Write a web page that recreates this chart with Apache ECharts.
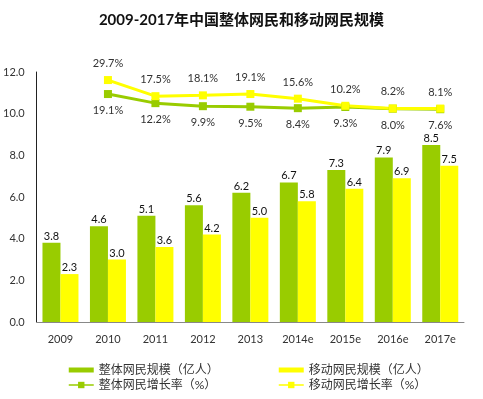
<!DOCTYPE html>
<html>
<head>
<meta charset="utf-8">
<script src="https://cdn.jsdelivr.net/npm/echarts@6/dist/echarts.min.js"></script>
<style>html,body{margin:0;padding:0;background:#fff;}#c{width:483px;height:399px;}</style>
</head>
<body>
<div id="c"></div>
<script>
const categories = ['2009','2010','2011','2012','2013','2014e','2015e','2016e','2017e'];
const totalUsers = [3.8,4.6,5.1,5.6,6.2,6.7,7.3,7.9,8.5];
const mobileUsers = [2.3,3.0,3.6,4.2,5.0,5.8,6.4,6.9,7.5];
const totalGrowth = [null,19.1,12.2,9.9,9.5,8.4,9.3,8.0,7.6];
const mobileGrowth = [null,29.7,17.5,18.1,19.1,15.6,10.2,8.2,8.1];
const yTicks = [0,2,4,6,8,10,12];

const FONT = 'Lato, "Noto Sans CJK SC", sans-serif';
const GREEN = '#99CC00';
const YELLOW = '#FFFF00';
const barIcon = 'path://M0,0H25V5H0Z';
const pct = p => Number(p.value).toFixed(1) + '%';
const one = p => Number(p.value).toFixed(1);

const chart = echarts.init(document.getElementById('c'));
chart.setOption({
  backgroundColor: '#fff',
  animation: false,
  textStyle: { fontFamily: FONT },
  title: {
    text: '2009-2017年中国整体网民和移动网民规模',
    left: 'center', top: 8,
    textStyle: { fontSize: 15, fontWeight: 'bold', color: '#111', fontFamily: FONT }
  },
  grid: { left: 31, right: 19, top: 72, bottom: 77, containLabel: false },
  legend: [
    {
      orient: 'vertical', left: 63, top: 359, itemWidth: 25, itemHeight: 8, itemGap: 3,
      textStyle: { fontSize: 12, color: '#333', fontFamily: FONT },
      lineStyle: { width: 1.5 },
      data: [{ name: '整体网民规模（亿人）', icon: barIcon }, { name: '整体网民增长率（%）' }]
    },
    {
      orient: 'vertical', left: 273, top: 359, itemWidth: 25, itemHeight: 8, itemGap: 3,
      textStyle: { fontSize: 12, color: '#333', fontFamily: FONT },
      lineStyle: { width: 1.5 },
      data: [{ name: '移动网民规模（亿人）', icon: barIcon }, { name: '移动网民增长率（%）' }]
    }
  ],
  xAxis: {
    type: 'category', data: categories,
    axisLine: { lineStyle: { color: '#888', width: 1 } },
    axisTick: { show: false },
    axisLabel: { color: '#333', fontSize: 11, margin: 12, fontFamily: FONT }
  },
  yAxis: [
    {
      type: 'value', min: yTicks[0], max: yTicks[yTicks.length - 1], interval: 2,
      axisLine: { show: true, lineStyle: { color: '#222', width: 1 } },
      axisTick: { show: false },
      splitLine: { show: false },
      axisLabel: { color: '#333', fontSize: 11, margin: 12, formatter: v => v.toFixed(1), fontFamily: FONT }
    },
    {
      type: 'value', min: -153.6, max: 35.8, show: false, splitLine: { show: false }
    }
  ],
  series: [
    {
      name: '整体网民规模（亿人）', type: 'bar', data: totalUsers, barWidth: 18, barGap: '0%',
      itemStyle: { color: GREEN },
      label: { show: true, position: 'top', distance: 1, color: '#111', fontSize: 11, formatter: one }
    },
    {
      name: '移动网民规模（亿人）', type: 'bar', data: mobileUsers, barWidth: 18,
      itemStyle: { color: YELLOW },
      label: { show: true, position: 'top', distance: 1, color: '#111', fontSize: 11, formatter: one }
    },
    {
      name: '整体网民增长率（%）', type: 'line', yAxisIndex: 1, data: totalGrowth,
      symbol: 'rect', symbolSize: 8, showAllSymbol: true,
      lineStyle: { color: GREEN, width: 3 }, itemStyle: { color: GREEN },
      label: { show: true, position: 'bottom', distance: 7, color: '#333', fontSize: 11, formatter: pct }
    },
    {
      name: '移动网民增长率（%）', type: 'line', yAxisIndex: 1, data: mobileGrowth,
      symbol: 'rect', symbolSize: 8, showAllSymbol: true,
      lineStyle: { color: YELLOW, width: 3 }, itemStyle: { color: YELLOW },
      label: { show: true, position: 'top', distance: 7, color: '#333', fontSize: 11, formatter: pct }
    }
  ]
});
</script>
</body>
</html>
